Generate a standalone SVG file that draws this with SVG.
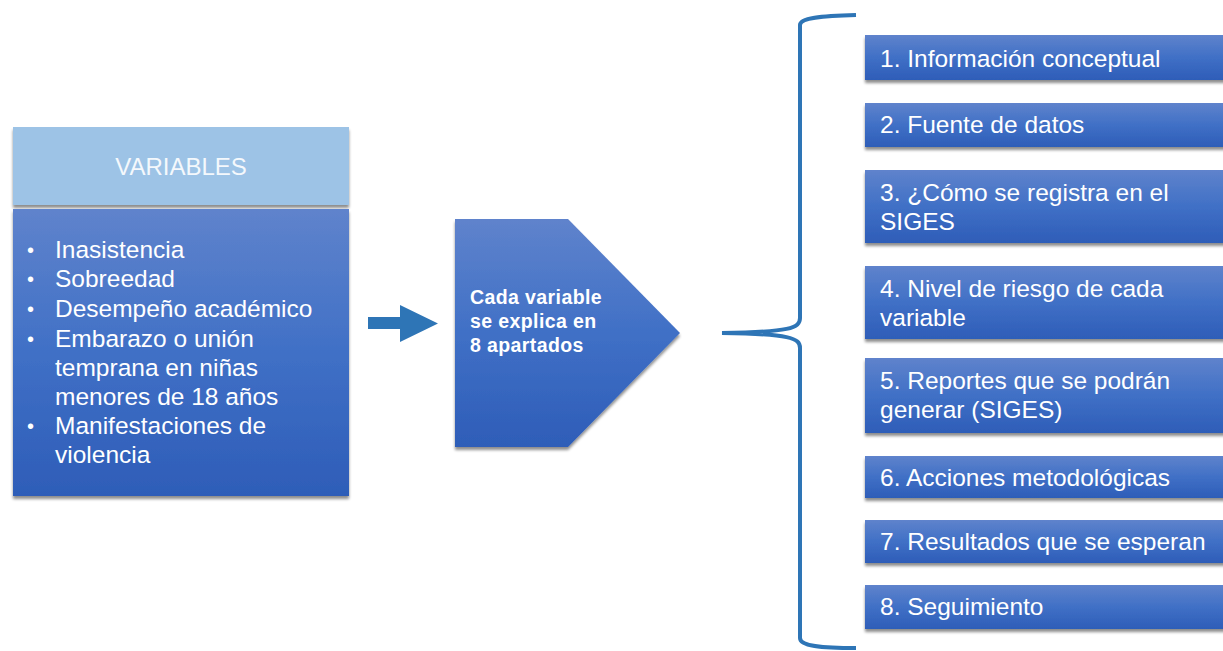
<svg xmlns="http://www.w3.org/2000/svg" width="1223" height="651" viewBox="0 0 1223 651">
<defs>
<linearGradient id="blueGrad" x1="0" y1="0" x2="0" y2="1">
<stop offset="0" stop-color="#5F83CC"/>
<stop offset="0.5" stop-color="#4070C6"/>
<stop offset="1" stop-color="#2E5DB8"/>
</linearGradient>
<filter id="shadow" x="-5%" y="-5%" width="110%" height="120%">
<feGaussianBlur in="SourceAlpha" stdDeviation="1.5"/>
<feOffset dx="0" dy="3" result="b"/>
<feComponentTransfer><feFuncA type="linear" slope="0.45"/></feComponentTransfer>
<feMerge><feMergeNode/><feMergeNode in="SourceGraphic"/></feMerge>
</filter>
</defs>
<style>
.t{font-family:"Liberation Sans",Arial,sans-serif;fill:#FFFFFF;font-size:24.5px}
.b{font-family:"Liberation Sans",Arial,sans-serif;fill:#FFFFFF;font-size:19.5px;font-weight:bold;letter-spacing:0.4px}
.box{fill:url(#blueGrad);filter:url(#shadow)}
.conn{fill:none;stroke:#2E75B6;stroke-width:4;stroke-linecap:butt}
</style>
<rect width="1223" height="651" fill="#FFFFFF"/>

<g id="variables-header">
<rect x="13" y="127" width="336" height="78" fill="#9DC3E6" filter="url(#shadow)"/>
<text class="t" x="181" y="175" text-anchor="middle" style="fill:#F4F8FC;font-size:24px">VARIABLES</text>
</g>

<g id="variables-body">
<rect class="box" x="13" y="209" width="336" height="287"/>
<g class="t">
<text x="27" y="257" font-size="20">•</text>
<text x="55" y="258">Inasistencia</text>
<text x="27" y="286" font-size="20">•</text>
<text x="55" y="287">Sobreedad</text>
<text x="27" y="316" font-size="20">•</text>
<text x="55" y="317">Desempeño académico</text>
<text x="27" y="346" font-size="20">•</text>
<text x="55" y="347">Embarazo o unión</text>
<text x="55" y="376">temprana en niñas</text>
<text x="55" y="405">menores de 18 años</text>
<text x="27" y="433" font-size="20">•</text>
<text x="55" y="434">Manifestaciones de</text>
<text x="55" y="463">violencia</text>
</g>
</g>

<g id="connectors">
<polygon points="368,317 400,317 400,305 438,323.5 400,342 400,329 368,329" fill="#2E75B6"/>
<path class="conn" d="M856,15 C820,16 800,18 800,25 L800,318 C800,328 790,332 722,333 C790,334 800,338 800,348 L800,638 C800,646 820,648 856,648"/>
</g>

<g id="pentagon">
<polygon class="box" points="455,219 568,219 680,333 568,447 455,447"/>
<text class="b" x="470" y="304">Cada variable</text>
<text class="b" x="470" y="328">se explica en</text>
<text class="b" x="470" y="352">8 apartados</text>
</g>

<g id="item1">
<rect class="box" x="865" y="35" width="365" height="45"/>
<text class="t" x="880" y="67">1. Información conceptual</text>
</g>
<g id="item2">
<rect class="box" x="865" y="103" width="365" height="44"/>
<text class="t" x="880" y="133">2. Fuente de datos</text>
</g>
<g id="item3">
<rect class="box" x="865" y="170" width="365" height="73"/>
<text class="t" x="880" y="201">3. ¿Cómo se registra en el</text>
<text class="t" x="880" y="230">SIGES</text>
</g>
<g id="item4">
<rect class="box" x="865" y="266" width="365" height="73"/>
<text class="t" x="880" y="297">4. Nivel de riesgo de cada</text>
<text class="t" x="880" y="326">variable</text>
</g>
<g id="item5">
<rect class="box" x="865" y="358" width="365" height="75"/>
<text class="t" x="880" y="389">5. Reportes que se podrán</text>
<text class="t" x="880" y="418">generar (SIGES)</text>
</g>
<g id="item6">
<rect class="box" x="865" y="456" width="365" height="42"/>
<text class="t" x="880" y="486">6. Acciones metodológicas</text>
</g>
<g id="item7">
<rect class="box" x="865" y="520" width="365" height="43"/>
<text class="t" x="880" y="550">7. Resultados que se esperan</text>
</g>
<g id="item8">
<rect class="box" x="865" y="585" width="365" height="44"/>
<text class="t" x="880" y="615">8. Seguimiento</text>
</g>
</svg>
